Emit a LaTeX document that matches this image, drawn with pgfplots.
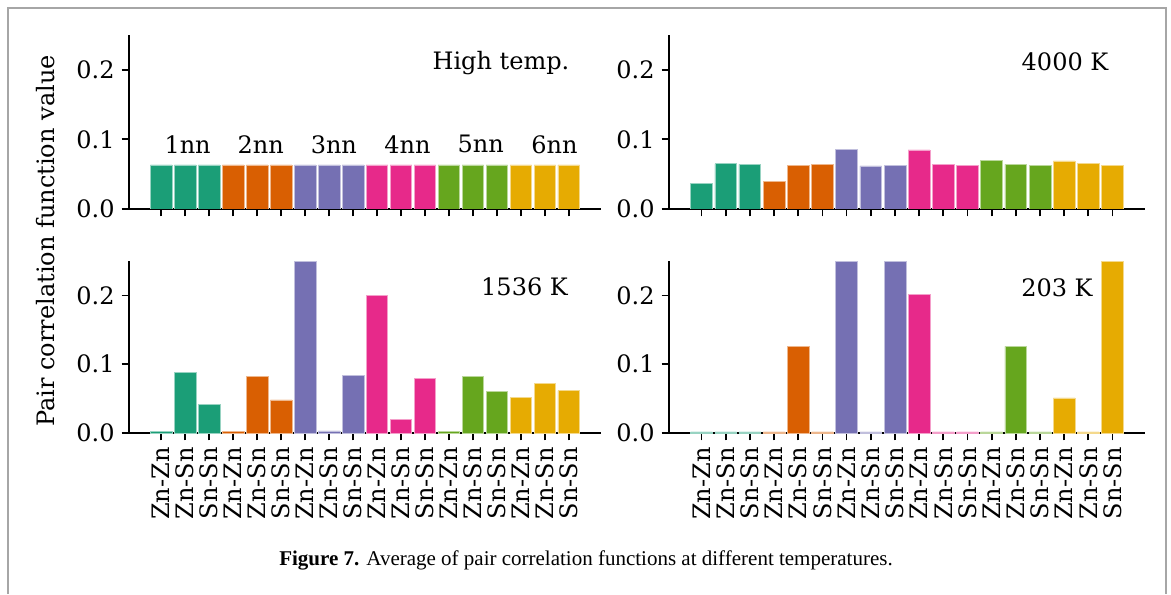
\documentclass[border=0pt]{standalone}
\usepackage{pgfplots}
\pgfplotsset{compat=1.18}
\usepackage{fontspec}
\setmainfont{DejaVu Serif}
\newfontfamily\capfont{Liberation Serif}
\definecolor{cA}{HTML}{1B9E77}
\definecolor{cB}{HTML}{D95F02}
\definecolor{cC}{HTML}{7570B3}
\definecolor{cD}{HTML}{E7298A}
\definecolor{cE}{HTML}{66A61E}
\definecolor{cF}{HTML}{E6AB02}
\pgfplotsset{
  panel/.style={
    scale only axis, anchor=south west,
    xmin=-1.345, xmax=18.345, ymin=0, ymax=0.25,
    axis x line*=bottom, axis y line*=left,
    axis line style={line width=0.9pt},
    every tick/.style={black, line width=0.9pt},
    tick align=outside, major tick length=3.7pt,
    ytick={0,0.1,0.2}, xtick={0,...,17},
    font=\fontsize{12}{14}\selectfont,
    /pgf/number format/assume math mode=true,
    yticklabel style={/pgf/number format/fixed, /pgf/number format/precision=1, /pgf/number format/fixed zerofill},
    clip=true,
  },
  toplab/.style={xticklabels={}},
  botlab/.style={xticklabels={Zn-Zn,Zn-Sn,Sn-Sn,Zn-Zn,Zn-Sn,Sn-Sn,Zn-Zn,Zn-Sn,Sn-Sn,Zn-Zn,Zn-Sn,Sn-Sn,Zn-Zn,Zn-Sn,Sn-Sn,Zn-Zn,Zn-Sn,Sn-Sn},
    xticklabel style={rotate=90, anchor=east}},
  b/.style={ybar, bar width=0.9, bar shift=0pt, fill=#1, draw=white!55!#1, line width=0.3pt},
}
\begin{document}
\begin{tikzpicture}
\path[use as bounding box] (0,0) rectangle (585.5pt,297pt);
\draw[gray!70, line width=1pt] (4pt,0) -- (4pt,293pt) -- (583pt,293pt) -- (583pt,0);

% High temp
\begin{axis}[panel, toplab, at={(64.5pt,192.5pt)}, width=236pt, height=87pt]
\addplot[b=cA] coordinates {(0,0.0635) (1,0.0635) (2,0.0635)};
\addplot[b=cB] coordinates {(3,0.0635) (4,0.0635) (5,0.0635)};
\addplot[b=cC] coordinates {(6,0.0635) (7,0.0635) (8,0.0635)};
\addplot[b=cD] coordinates {(9,0.0635) (10,0.0635) (11,0.0635)};
\addplot[b=cE] coordinates {(12,0.0635) (13,0.0635) (14,0.0635)};
\addplot[b=cF] coordinates {(15,0.0635) (16,0.0635) (17,0.0635)};
\node at (rel axis cs:0.788,0.84) {High temp.};
\node at (axis cs:1.1,0.093) {1nn};
\node at (axis cs:4.15,0.093) {2nn};
\node at (axis cs:7.2,0.093) {3nn};
\node at (axis cs:10.27,0.093) {4nn};
\node at (axis cs:13.33,0.093) {5nn};
\node at (axis cs:16.4,0.093) {6nn};
\end{axis}

% 4000 K
\begin{axis}[panel, toplab, at={(334.5pt,192.5pt)}, width=238pt, height=87pt]
\addplot[b=cA] coordinates {(0,0.037) (1,0.065) (2,0.064)};
\addplot[b=cB] coordinates {(3,0.040) (4,0.063) (5,0.064)};
\addplot[b=cC] coordinates {(6,0.086) (7,0.062) (8,0.063)};
\addplot[b=cD] coordinates {(9,0.085) (10,0.064) (11,0.063)};
\addplot[b=cE] coordinates {(12,0.070) (13,0.064) (14,0.063)};
\addplot[b=cF] coordinates {(15,0.069) (16,0.065) (17,0.063)};
\node at (rel axis cs:0.832,0.845) {4000 K};
\end{axis}

% 1536 K
\begin{axis}[panel, botlab, at={(64.5pt,80.5pt)}, width=236pt, height=86pt]
\addplot[b=cA] coordinates {(0,0.002) (1,0.0886) (2,0.0412)};
\addplot[b=cB] coordinates {(3,0.002) (4,0.0818) (5,0.048)};
\addplot[b=cC] coordinates {(6,0.25) (7,0.003) (8,0.0833)};
\addplot[b=cD] coordinates {(9,0.2) (10,0.0194) (11,0.0794)};
\addplot[b=cE] coordinates {(12,0.002) (13,0.0818) (14,0.060)};
\addplot[b=cF] coordinates {(15,0.0513) (16,0.0722) (17,0.0615)};
\node at (rel axis cs:0.838,0.85) {1536 K};
\end{axis}

% 203 K
\begin{axis}[panel, botlab, at={(334.5pt,80.5pt)}, width=238pt, height=86pt]
\addplot[b=cA] coordinates {(0,0.0015) (1,0.0015) (2,0.0015)};
\addplot[b=cB] coordinates {(3,0.0015) (4,0.126) (5,0.0015)};
\addplot[b=cC] coordinates {(6,0.25) (7,0.0015) (8,0.25)};
\addplot[b=cD] coordinates {(9,0.201) (10,0.0015) (11,0.0015)};
\addplot[b=cE] coordinates {(12,0.0015) (13,0.126) (14,0.0015)};
\addplot[b=cF] coordinates {(15,0.051) (16,0.0015) (17,0.25)};
\node at (rel axis cs:0.815,0.843) {203 K};
\end{axis}

\node[rotate=90, font=\fontsize{12}{14}\selectfont] at (23pt,176.5pt) {Pair correlation function value};
\node[font=\capfont\fontsize{10.5}{12}\selectfont] at (293pt,17pt) {\textbf{Figure 7.} Average of pair correlation functions at different temperatures.};
\end{tikzpicture}
\end{document}
